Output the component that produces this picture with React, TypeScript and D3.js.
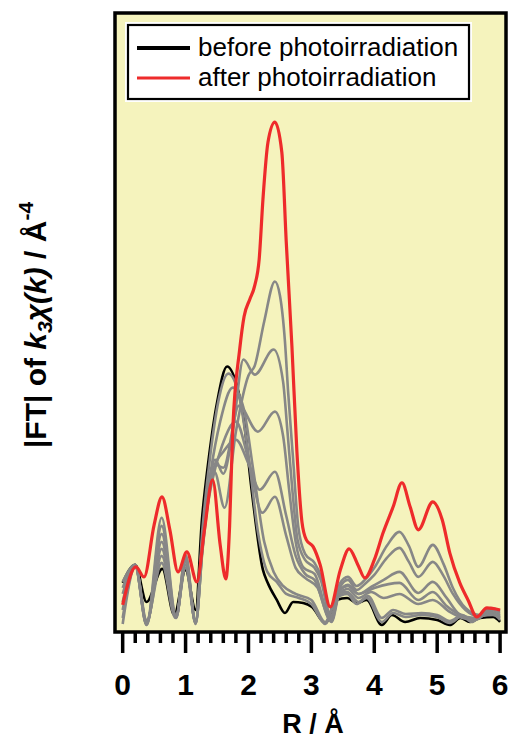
import { useEffect, useRef } from 'react'
import * as d3 from 'd3'

type Pt = [number, number]

// |FT| traces, [R in Å, magnitude in arbitrary units]
const beforeCurve: Pt[] = [
  [0, 2.45], [0.2, 3.35], [0.38, 1.5], [0.63, 3.15], [0.82, 0.85], [1.0, 3.1], [1.16, 1.1],
  [1.26, 5.6], [1.36, 8.45], [1.5, 11.45], [1.66, 13.25], [1.82, 12.25], [1.91, 10.95],
  [2.05, 7.1], [2.23, 3.1], [2.3, 2.5], [2.45, 1.6], [2.58, 0.95], [2.71, 1.5], [2.87, 1.45],
  [3.01, 1.25], [3.22, 0.45], [3.4, 1.6], [3.57, 1.7], [3.72, 1.45], [3.88, 1.6], [4.12, 0.35],
  [4.28, 0.85], [4.49, 0.5], [4.73, 0.7], [5.0, 0.6], [5.2, 0.35], [5.37, 0.7], [5.52, 0.5],
  [5.68, 0.7], [5.89, 0.75], [6.0, 0.5],
]

const afterCurve: Pt[] = [
  [0, 1.35], [0.21, 3.25], [0.34, 2.75], [0.5, 5.35], [0.625, 6.75], [0.75, 5.1], [0.88, 3.0],
  [1.02, 4.0], [1.18, 2.5], [1.3, 5.1], [1.43, 7.6], [1.55, 4.35], [1.64, 2.65], [1.7, 5.3],
  [1.75, 10.1], [1.86, 14.1], [1.93, 15.75], [2.02, 16.6], [2.1, 17.3], [2.17, 18.6],
  [2.23, 21.6], [2.31, 24.45], [2.42, 25.45], [2.53, 23.95], [2.6, 19.5], [2.69, 14.3],
  [2.77, 9.0], [2.85, 5.5], [2.92, 4.6], [3.03, 4.25], [3.14, 3.35], [3.3, 1.25], [3.46, 3.1],
  [3.6, 4.15], [3.74, 3.35], [3.85, 2.7], [4.0, 3.6], [4.14, 4.95], [4.3, 6.25], [4.44, 7.45],
  [4.57, 6.25], [4.7, 5.1], [4.93, 6.5], [5.08, 5.6], [5.2, 3.95], [5.36, 2.45], [5.49, 1.6],
  [5.63, 0.75], [5.79, 1.2], [6.0, 1.1],
]

// intermediate scans, from closest to "before" up to closest to "after"
const scan1: Pt[] = [
  [0, 2.5], [0.2, 3.35], [0.38, 0.6], [0.62, 3.45], [0.84, 0.7], [1.0, 3.2], [1.16, 0.5],
  [1.27, 5.2], [1.4, 9.0], [1.52, 11.5], [1.68, 12.9], [1.85, 11.8], [2.0, 8.8], [2.15, 5.0],
  [2.3, 3.0], [2.45, 2.5], [2.6, 1.9], [2.8, 1.7], [3.0, 1.4], [3.22, 0.4], [3.4, 1.7],
  [3.57, 1.9], [3.72, 1.4], [3.88, 1.7], [4.12, 0.5], [4.3, 0.95], [4.5, 0.75], [4.75, 0.85],
  [5.0, 0.75], [5.2, 0.45], [5.4, 0.8], [5.55, 0.5], [5.7, 0.8], [5.9, 0.85], [6.0, 0.6],
]
const scan2: Pt[] = [
  [0, 2.2], [0.2, 3.35], [0.38, 0.5], [0.62, 3.8], [0.85, 0.8], [1.0, 3.35], [1.16, 0.6],
  [1.27, 4.8], [1.4, 8.0], [1.55, 10.5], [1.75, 12.2], [1.92, 11.2], [2.08, 8.0], [2.25, 4.5],
  [2.4, 3.0], [2.55, 2.3], [2.75, 1.9], [3.0, 1.6], [3.22, 0.5], [3.4, 1.8], [3.57, 2.0],
  [3.75, 1.5], [3.9, 1.8], [4.12, 0.7], [4.3, 1.1], [4.5, 0.9], [4.75, 0.95], [5.0, 0.85],
  [5.2, 0.55], [5.4, 0.85], [5.55, 0.6], [5.7, 0.85], [5.9, 0.9], [6.0, 0.7],
]
const scan3: Pt[] = [
  [0, 1.9], [0.2, 3.35], [0.38, 0.45], [0.62, 4.15], [0.85, 0.75], [1.0, 3.5], [1.16, 0.55],
  [1.27, 4.5], [1.42, 7.5], [1.58, 9.3], [1.8, 10.5], [2.0, 8.6], [2.22, 5.95], [2.42, 6.75],
  [2.6, 4.8], [2.75, 3.2], [2.9, 2.7], [3.1, 2.2], [3.3, 0.6], [3.45, 1.9], [3.58, 2.15],
  [3.75, 1.7], [3.95, 2.0], [4.15, 1.7], [4.4, 1.9], [4.7, 1.4], [4.93, 1.6], [5.2, 1.0],
  [5.4, 0.7], [5.6, 0.6], [5.8, 0.9], [6.0, 0.75],
]
const scan4: Pt[] = [
  [0, 1.5], [0.2, 3.35], [0.38, 0.4], [0.62, 4.5], [0.85, 0.7], [1.0, 3.6], [1.16, 0.45],
  [1.27, 4.4], [1.45, 8.2], [1.6, 9.0], [1.8, 9.6], [2.0, 8.4], [2.18, 7.1], [2.42, 8.0],
  [2.6, 5.8], [2.75, 3.8], [2.9, 2.9], [3.05, 2.6], [3.3, 0.7], [3.45, 2.1], [3.58, 2.3],
  [3.75, 1.9], [4.0, 2.2], [4.4, 2.45], [4.7, 1.6], [4.93, 2.0], [5.15, 1.3], [5.4, 0.8],
  [5.6, 0.65], [5.8, 0.95], [6.0, 0.8],
]
const scan5: Pt[] = [
  [0, 1.1], [0.2, 3.3], [0.38, 0.35], [0.62, 4.9], [0.85, 0.7], [1.0, 3.7], [1.16, 0.4],
  [1.27, 4.3], [1.45, 8.4], [1.6, 8.2], [1.85, 11.3], [2.15, 10.0], [2.42, 11.0], [2.55, 9.8],
  [2.65, 7.0], [2.75, 4.5], [2.88, 3.2], [3.05, 2.9], [3.32, 0.5], [3.45, 2.0], [3.58, 2.35],
  [3.75, 1.9], [3.95, 2.25], [4.15, 2.6], [4.4, 3.0], [4.7, 1.95], [4.93, 2.5], [5.15, 1.7],
  [5.35, 0.9], [5.6, 0.7], [5.85, 1.0], [6.0, 0.85],
]
const scan6: Pt[] = [
  [0, 0.7], [0.2, 3.3], [0.38, 0.35], [0.62, 5.3], [0.85, 0.75], [1.0, 3.8], [1.16, 0.4],
  [1.27, 4.2], [1.47, 8.6], [1.6, 7.9], [1.75, 10.0], [1.92, 13.6], [2.1, 12.85], [2.4, 14.1],
  [2.55, 12.5], [2.62, 10.0], [2.7, 7.0], [2.78, 4.6], [2.9, 3.6], [3.05, 3.2], [3.15, 2.6],
  [3.32, 0.55], [3.45, 2.2], [3.58, 2.6], [3.72, 2.1], [3.85, 2.4], [4.0, 2.85], [4.2, 3.7],
  [4.4, 4.2], [4.55, 3.5], [4.7, 2.75], [4.93, 3.5], [5.1, 2.8], [5.25, 1.9], [5.45, 1.1],
  [5.65, 0.8], [5.85, 1.1], [6.0, 0.95],
]
const scan7: Pt[] = [
  [0, 0.4], [0.2, 3.25], [0.38, 0.4], [0.62, 5.7], [0.85, 0.8], [1.0, 3.85], [1.16, 0.45],
  [1.27, 4.1], [1.46, 8.0], [1.62, 6.2], [1.8, 10.0], [2.0, 12.8], [2.1, 13.3], [2.25, 15.5],
  [2.42, 17.5], [2.5, 16.8], [2.58, 14.5], [2.63, 12.0], [2.71, 8.6], [2.79, 5.3], [2.9, 3.9],
  [3.05, 3.45], [3.15, 2.8], [3.32, 0.6], [3.45, 2.4], [3.58, 2.75], [3.72, 2.3], [3.85, 2.6],
  [4.0, 3.2], [4.2, 4.3], [4.4, 5.0], [4.55, 4.3], [4.7, 3.25], [4.93, 4.35], [5.1, 3.4],
  [5.25, 2.2], [5.45, 1.2], [5.68, 0.85], [5.85, 1.2], [6.0, 1.05],
]
const intermediateScans = [scan1, scan2, scan3, scan4, scan5, scan6, scan7]

const xTicks = [0, 1, 2, 3, 4, 5, 6]
const legendItems = [
  { label: 'before photoirradiation', color: '#000000' },
  { label: 'after photoirradiation', color: '#ee2b2b' },
]

const FONT = "'Liberation Sans', Arial, Helvetica, sans-serif"

export default function App() {
  const svgRef = useRef<SVGSVGElement>(null)

  useEffect(() => {
    if (!svgRef.current) return
    const svg = d3.select(svgRef.current)
    svg.selectAll('*').remove()

    const left = 115, right = 506, top = 13, bottom = 632

    const x = d3.scaleLinear().domain([-0.122, 6.094]).range([left, right])
    const y = d3.scaleLinear().domain([0, 30.9]).range([bottom, top])

    svg.append('rect')
      .attr('x', left).attr('y', top)
      .attr('width', right - left).attr('height', bottom - top)
      .attr('fill', '#f5f3bd')

    const line = d3.line<Pt>()
      .x((d) => x(d[0]))
      .y((d) => y(d[1]))
      .curve(d3.curveMonotoneX)

    const g = svg.append('g')

    g.append('path')
      .attr('d', line(beforeCurve))
      .attr('fill', 'none').attr('stroke', '#000').attr('stroke-width', 2.6)
      .attr('stroke-linejoin', 'round')

    g.selectAll('path.scan')
      .data(intermediateScans)
      .join('path')
      .attr('class', 'scan')
      .attr('d', (d) => line(d))
      .attr('fill', 'none').attr('stroke', '#878787').attr('stroke-width', 2.6)
      .attr('stroke-linejoin', 'round')

    g.append('path')
      .attr('d', line(afterCurve))
      .attr('fill', 'none').attr('stroke', '#ee2b2b').attr('stroke-width', 3.2)
      .attr('stroke-linejoin', 'round')

    // frame
    svg.append('rect')
      .attr('x', left).attr('y', top)
      .attr('width', right - left).attr('height', bottom - top)
      .attr('fill', 'none').attr('stroke', '#000').attr('stroke-width', 3.5)

    // x axis ticks (outside, below frame)
    const minor = d3.range(0, 6.001, 0.2)
    svg.append('g')
      .selectAll('line')
      .data(minor)
      .join('line')
      .attr('x1', (d) => x(d)).attr('x2', (d) => x(d))
      .attr('y1', bottom)
      .attr('y2', (d) => (Math.abs(d - Math.round(d)) < 1e-6 ? bottom + 21 : bottom + 11))
      .attr('stroke', '#000').attr('stroke-width', 3.5)

    svg.append('g')
      .selectAll('text')
      .data(xTicks)
      .join('text')
      .attr('x', (d) => x(d)).attr('y', 695)
      .attr('text-anchor', 'middle')
      .attr('font-family', FONT).attr('font-weight', 'bold').attr('font-size', 30)
      .text((d) => String(d))

    svg.append('text')
      .attr('x', 313).attr('y', 733)
      .attr('text-anchor', 'middle')
      .attr('font-family', FONT).attr('font-weight', 'bold').attr('font-size', 27)
      .text('R / Å')

    // y label
    const yl = svg.append('text')
      .attr('transform', 'translate(46,325) rotate(-90)')
      .attr('text-anchor', 'middle')
      .attr('font-family', FONT).attr('font-weight', 'bold').attr('font-size', 30)
    yl.append('tspan').text('|FT| of ')
    yl.append('tspan').attr('font-style', 'italic').text('k')
    yl.append('tspan').attr('font-style', 'italic').attr('font-size', 21).attr('dy', 6).text('3')
    yl.append('tspan').attr('font-style', 'italic').attr('dy', -6).text('χ(k)')
    yl.append('tspan').text(' / Å')
    yl.append('tspan').attr('font-size', 21).attr('dy', -13).text('-4')

    // legend
    const lg = svg.append('g')
    lg.append('rect')
      .attr('x', 125).attr('y', 22).attr('width', 347).attr('height', 80)
      .attr('fill', '#fff')
    lg.append('rect')
      .attr('x', 128).attr('y', 25).attr('width', 341).attr('height', 74)
      .attr('fill', 'none').attr('stroke', '#000').attr('stroke-width', 2.2)
    legendItems.forEach((item, i) => {
      const cy = 48 + i * 30
      lg.append('line')
        .attr('x1', 137).attr('x2', 190).attr('y1', cy).attr('y2', cy)
        .attr('stroke', item.color).attr('stroke-width', i === 0 ? 3.8 : 3.2)
      lg.append('text')
        .attr('x', 198).attr('y', cy + 8)
        .attr('font-family', FONT).attr('font-size', 26)
        .text(item.label)
    })
  }, [])

  return (
    <svg
      ref={svgRef}
      width={510}
      height={738}
      style={{ position: 'absolute', left: 0, top: 0, background: '#fff' }}
    />
  )
}
